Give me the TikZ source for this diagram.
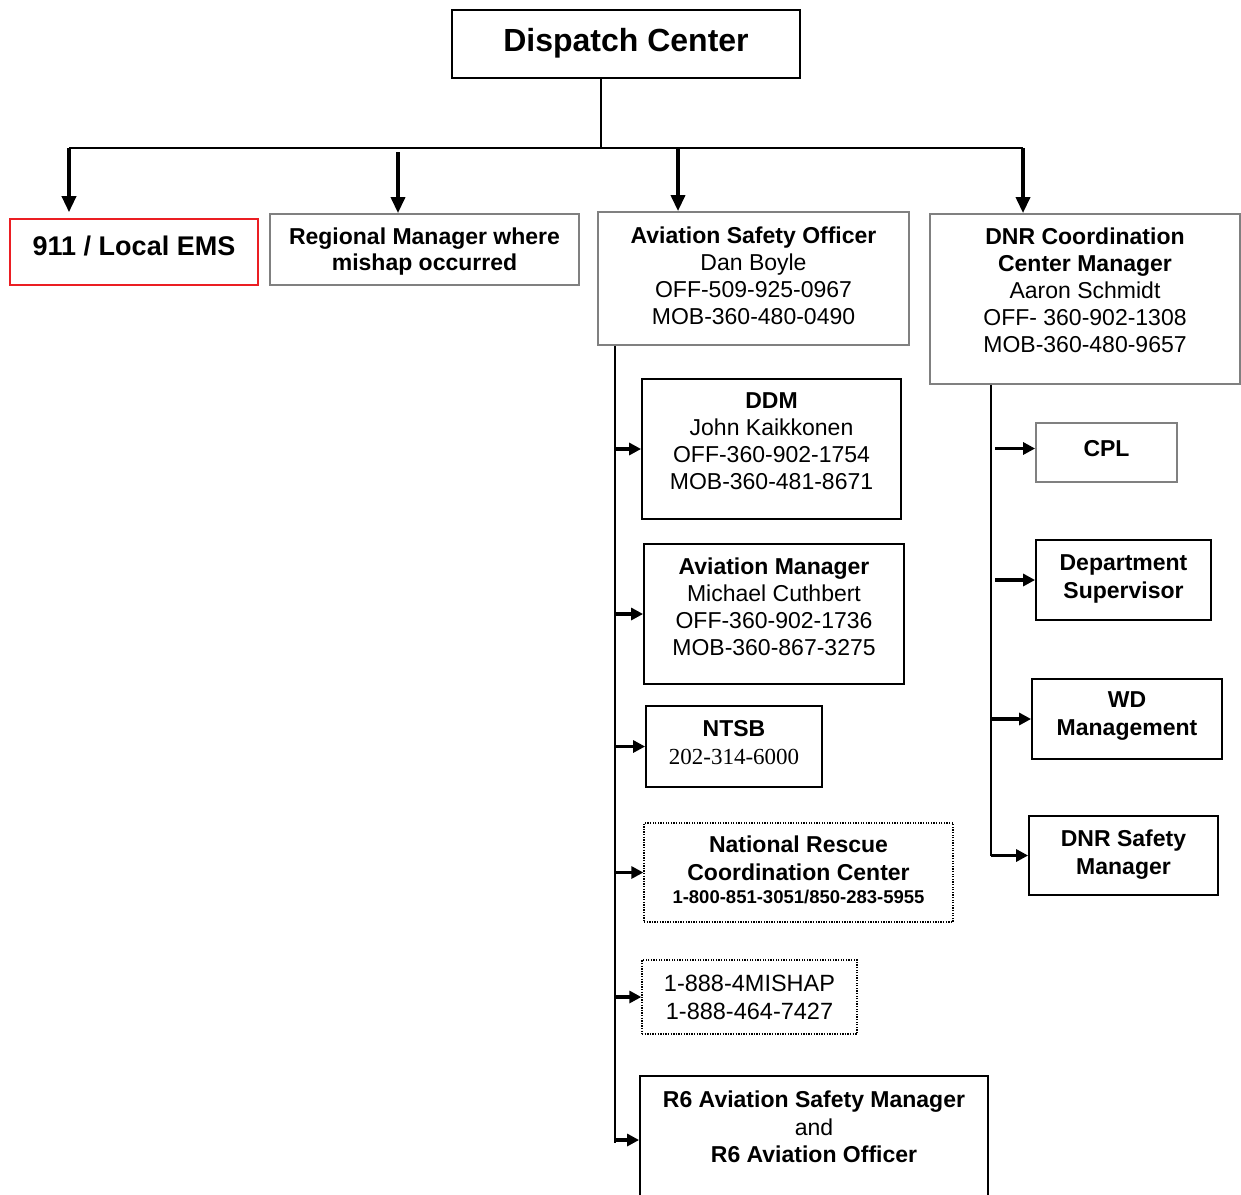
\documentclass[tikz,border=0pt]{standalone}
\usepackage{fontspec}
\setmainfont{Liberation Sans}
\newfontfamily\timesfont{Liberation Serif}
\usetikzlibrary{arrows.meta}
\definecolor{boxgray}{RGB}{128,128,128}
\definecolor{emsred}{RGB}{235,30,35}
\begin{document}
\begin{tikzpicture}[x=1pt, y=-1pt, >={Triangle[length=16pt,width=14pt]}, font=\fontsize{23}{27}\selectfont,
	box/.style={draw, line width=1.8pt, align=center, inner sep=0pt},
	graybox/.style={box, draw=boxgray},
	dotbox/.style={box, line width=1.3pt, dash pattern=on 1.3pt off 1.3pt},
	trunk/.style={line width=2.2pt},
	arr/.style={->, line width=3.5pt},
	side/.style={->, line width=3.2pt, >={Triangle[length=12pt,width=12pt]}}]
	\useasboundingbox (0,0) rectangle (1241,1194);
	% top row
	\node[box, minimum width=348, minimum height=68, text depth=8pt, font=\fontsize{32}{38}\selectfont\bfseries] (dc) at (626,44) {Dispatch Center};
	\node[box, draw=emsred, line width=1.6pt, minimum width=248, minimum height=66, text depth=12pt, font=\fontsize{27}{32}\selectfont\bfseries] (ems) at (134,252) {911 / Local EMS};
	\node[graybox, minimum width=309, minimum height=71, text depth=1pt, font=\fontsize{23}{26}\selectfont\bfseries] (reg) at (424.5,249.5) {Regional Manager where\\mishap occurred};
	\node[graybox, minimum width=311, minimum height=133, text depth=6pt] (aso) at (753.5,278.5) {\textbf{Aviation Safety Officer}\\Dan Boyle\\OFF-509-925-0967\\MOB-360-480-0490};
	\node[graybox, minimum width=310, minimum height=170, text depth=18pt] (dnr) at (1085,299) {\textbf{DNR Coordination}\\\textbf{Center Manager}\\Aaron Schmidt\\OFF- 360-902-1308\\MOB-360-480-9657};
	% aviation column
	\node[box, minimum width=259, minimum height=140, text depth=15pt] (ddm) at (771.5,449) {\textbf{DDM}\\John Kaikkonen\\OFF-360-902-1754\\MOB-360-481-8671};
	\node[box, minimum width=260, minimum height=140, text depth=15pt] (am) at (774,614) {\textbf{Aviation Manager}\\Michael Cuthbert\\OFF-360-902-1736\\MOB-360-867-3275};
	\node[box, minimum width=176, minimum height=81, text depth=9pt, font=\fontsize{23}{28}\selectfont] (ntsb) at (734,746.5) {\textbf{NTSB}\\{\timesfont 202-314-6000}};
	\node[dotbox, minimum width=309, minimum height=99, text depth=5pt, font=\fontsize{23}{28}\selectfont\bfseries] (nrcc) at (798.5,872.5) {National Rescue\\Coordination Center\\[-5pt]{\fontsize{18.5}{22}\selectfont 1-800-851-3051/850-283-5955}};
	\node[dotbox, minimum width=215, minimum height=74, text depth=0pt, font=\fontsize{23.5}{28}\selectfont] (mishap) at (749.5,997) {1-888-4MISHAP\\1-888-464-7427};
	\node[box, minimum width=348, minimum height=128, text depth=26pt, font=\fontsize{23}{27.5}\selectfont] (r6) at (814,1140) {\textbf{R6 Aviation Safety Manager}\\and\\\textbf{R6 Aviation Officer}};
	% dnr column
	\node[graybox, minimum width=141, minimum height=59, text depth=9pt, font=\fontsize{23}{27}\selectfont\bfseries] (cpl) at (1106.5,452.5) {CPL};
	\node[box, minimum width=175, minimum height=80, text depth=6pt, font=\fontsize{23}{28}\selectfont\bfseries] (dept) at (1123.5,580) {Department\\Supervisor};
	\node[box, minimum width=190, minimum height=80, text depth=10pt, font=\fontsize{23}{28}\selectfont\bfseries] (wd) at (1127,719) {WD\\Management};
	\node[box, minimum width=189, minimum height=79, text depth=7pt, font=\fontsize{23}{28}\selectfont\bfseries] (dnrs) at (1123.5,855.5) {DNR Safety\\Manager};
	% bus from dispatch
	\coordinate (hub) at (601,148);
	\coordinate (b1) at (69,148);
	\coordinate (b2) at (398,152);
	\coordinate (b3) at (678,148);
	\coordinate (b4) at (1023,148);
	\draw[line width=1.6pt] (dc.south -| hub) -- (hub);
	\draw[trunk] (b1) -- (b4);
	\draw[arr, shorten >=6pt] (b1) -- (b1 |- ems.north);
	\draw[arr] (b2) -- (b2 |- reg.north);
	\draw[arr] (b3) -- (b3 |- aso.north);
	\draw[arr] (b4) -- (b4 |- dnr.north);
	% aviation safety officer branch
	\coordinate (asot) at ([xshift=18pt]aso.south west);
	\draw[side] (asot |- ddm.west) -- (ddm.west);
	\draw[side] (asot |- am.west) -- (am.west);
	\draw[side] (asot |- ntsb.west) -- (ntsb.west);
	\draw[side] (asot |- nrcc.west) -- (nrcc.west);
	\draw[side] (asot |- mishap.west) -- (mishap.west);
	\draw[side] (asot |- r6.west) -- (r6.west);
	\draw[trunk] (asot) -- ([yshift=-3pt]asot |- r6.west);
	% dnr branch
	\coordinate (dnrt) at ([xshift=62pt]dnr.south west);
	\draw[trunk] (dnrt) -- (dnrt |- dnrs.west);
	\draw[side] (dnrt |- dnrs.west) -- (dnrs.west);
	\draw[side] ([xshift=4pt, yshift=4pt]dnrt |- cpl.west) -- ([yshift=4pt]cpl.west);
	\draw[side] ([xshift=4pt]dnrt |- dept.west) -- (dept.west);
	\draw[side] (dnrt |- wd.west) -- (wd.west);
\end{tikzpicture}
\end{document}
